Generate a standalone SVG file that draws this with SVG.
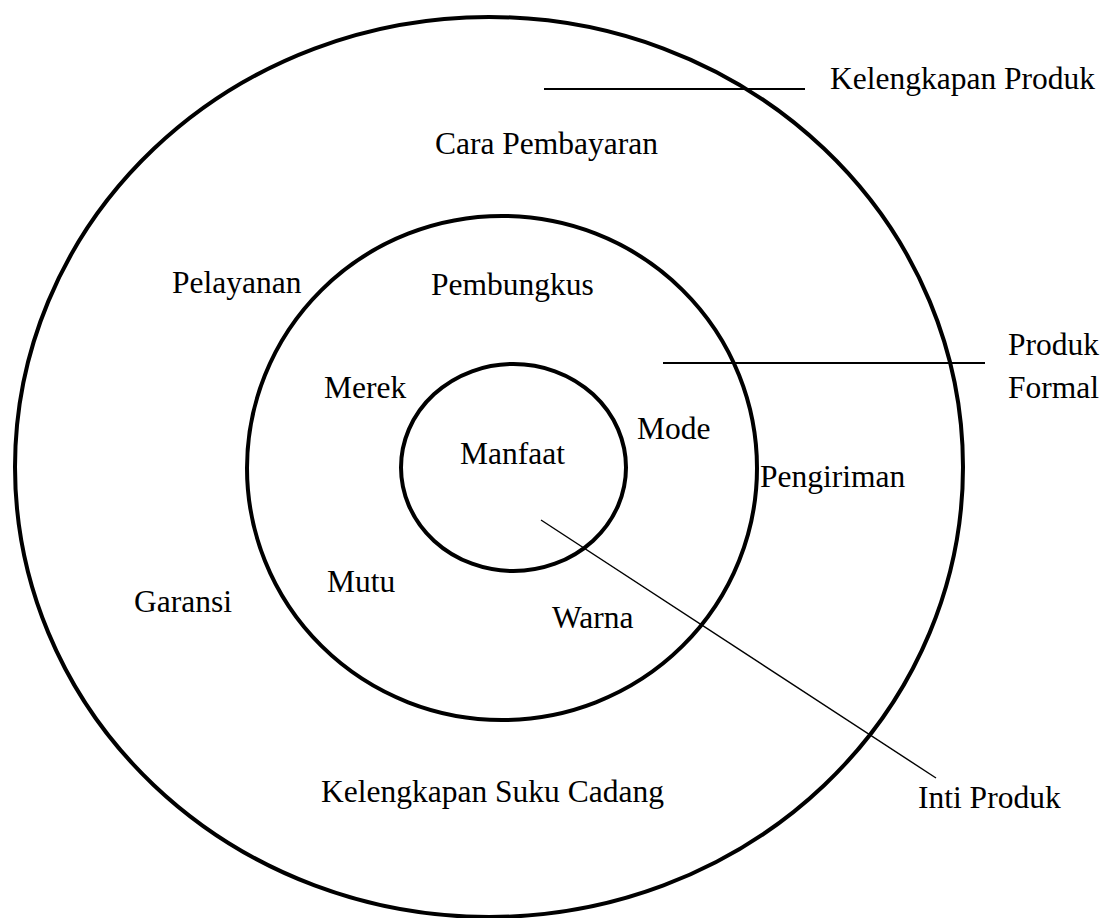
<svg xmlns="http://www.w3.org/2000/svg" width="1101" height="918" viewBox="0 0 1101 918">
<style>
.ring{fill:none;stroke:#000;stroke-width:4}
.ln{stroke:#000;stroke-width:2;fill:none}
.thin{stroke:#000;stroke-width:1.4;fill:none}
text{font-family:"Liberation Serif","Times New Roman",serif;font-size:31.5px;fill:#000}
</style>
<rect width="1101" height="918" fill="#fff"/>
<g id="outer-ring">
<ellipse class="ring" cx="489" cy="467" rx="474" ry="450"/>
</g>
<g id="middle-ring">
<ellipse class="ring" cx="502" cy="468" rx="255" ry="252"/>
</g>
<g id="inner-ring">
<ellipse class="ring" cx="513.5" cy="467.5" rx="112.5" ry="103.5"/>
</g>
<g id="connectors">
<line class="ln" x1="544" y1="89" x2="805" y2="89"/>
<line class="ln" x1="663" y1="363" x2="985" y2="363"/>
<line class="thin" x1="541" y1="520" x2="936" y2="778"/>
</g>
<g id="label-kelengkapan-produk"><text x="830" y="89">Kelengkapan Produk</text></g>
<g id="label-cara-pembayaran"><text x="435" y="154">Cara Pembayaran</text></g>
<g id="label-pelayanan"><text x="172" y="293">Pelayanan</text></g>
<g id="label-pembungkus"><text x="431" y="295">Pembungkus</text></g>
<g id="label-produk-formal"><text x="1008" y="355">Produk</text><text x="1008" y="398">Formal</text></g>
<g id="label-merek"><text x="324" y="398">Merek</text></g>
<g id="label-mode"><text x="637" y="439">Mode</text></g>
<g id="label-manfaat"><text x="460" y="464">Manfaat</text></g>
<g id="label-pengiriman"><text x="760" y="487">Pengiriman</text></g>
<g id="label-mutu"><text x="327" y="592">Mutu</text></g>
<g id="label-garansi"><text x="134" y="612">Garansi</text></g>
<g id="label-warna"><text x="552" y="628">Warna</text></g>
<g id="label-kelengkapan-suku-cadang"><text x="321" y="802">Kelengkapan Suku Cadang</text></g>
<g id="label-inti-produk"><text x="918" y="808">Inti Produk</text></g>
</svg>
